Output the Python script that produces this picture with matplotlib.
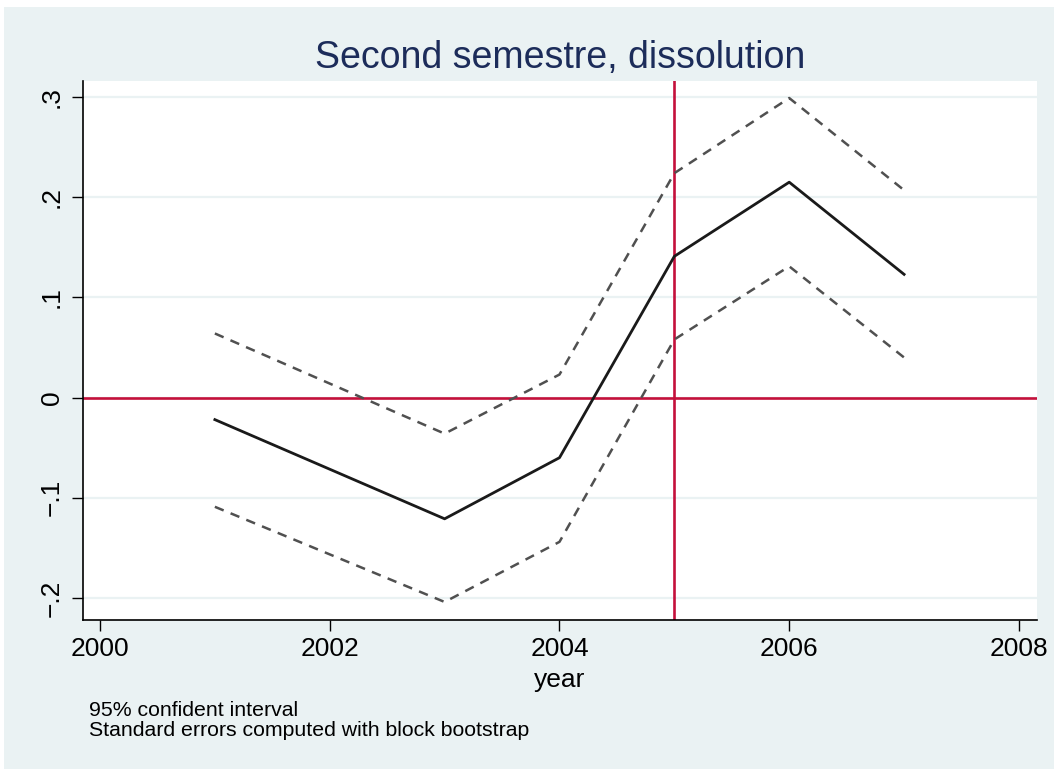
import matplotlib
matplotlib.use("Agg")
import matplotlib.pyplot as plt
from matplotlib.patches import Rectangle

plt.rcParams['font.family'] = ['Liberation Sans', 'DejaVu Sans']

years = [2001, 2003, 2004, 2005, 2006, 2007]
estimate = [-0.022, -0.121, -0.060, 0.141, 0.215, 0.123]
upper = [0.064, -0.036, 0.023, 0.224, 0.299, 0.207]
lower = [-0.109, -0.204, -0.144, 0.058, 0.131, 0.040]

xticks = [2000, 2002, 2004, 2006, 2008]
yticks = [-0.2, -0.1, 0, 0.1, 0.2, 0.3]
ytick_labels = ['\u2212.2', '\u2212.1', '0', '.1', '.2', '.3']
title = "Second semestre, dissolution"
notes = ["95% confident interval", "Standard errors computed with block bootstrap"]

W, H = 1054, 769
fig = plt.figure(figsize=(W / 100, H / 100), dpi=100, facecolor='white')
bg = '#EAF2F3'
fig.patches.append(Rectangle((4 / W, 0), 1 - 4 / W, 1 - 7 / H, transform=fig.transFigure,
                             facecolor=bg, edgecolor='none', zorder=-5))

ax = fig.add_axes([83 / W, 1 - 620 / H, (1037 - 83) / W, (620 - 81) / H])
ax.set_zorder(1)
ax.set_facecolor('white')
ax.set_xlim(1999.852, 2008.157)
ax.set_ylim(-0.222, 0.316)

for y in yticks:
    ax.axhline(y, color=bg, lw=1.6, zorder=1)

ax.axhline(0, color='#C4103B', lw=1.9, zorder=2)
ax.axvline(2005, color='#C4103B', lw=1.9, zorder=2)

ax.plot(years, upper, color='#505050', lw=1.8, dashes=(3.8, 3.0), zorder=3)
ax.plot(years, lower, color='#505050', lw=1.8, dashes=(3.8, 3.0), zorder=3)
ax.plot(years, estimate, color='#1a1a1a', lw=2.0, zorder=4)

ax.set_xticks(xticks)
ax.set_xticklabels([str(x) for x in xticks], fontsize=19)
ax.set_yticks(yticks)
ax.set_yticklabels(ytick_labels, fontsize=19, rotation=90, va='center')
ax.tick_params(axis='both', length=8, width=1, color='black', pad=4)
ax.tick_params(axis='y', pad=6)
ax.set_xlabel('year', fontsize=19, labelpad=5)

for s in ['top', 'right']:
    ax.spines[s].set_visible(False)
for s in ['left', 'bottom']:
    ax.spines[s].set_linewidth(1.2)
    ax.spines[s].set_color('black')

fig.text(560 / W, 1 - 58 / H, title, ha='center', va='center', fontsize=27, color='#1C2C5A')
fig.text(89 / W, 1 - 711 / H, notes[0], ha='left', va='center', fontsize=15.3, color='black')
fig.text(89 / W, 1 - 731 / H, notes[1], ha='left', va='center', fontsize=15.3, color='black')

fig.savefig('out.png', dpi=100, facecolor='white')
